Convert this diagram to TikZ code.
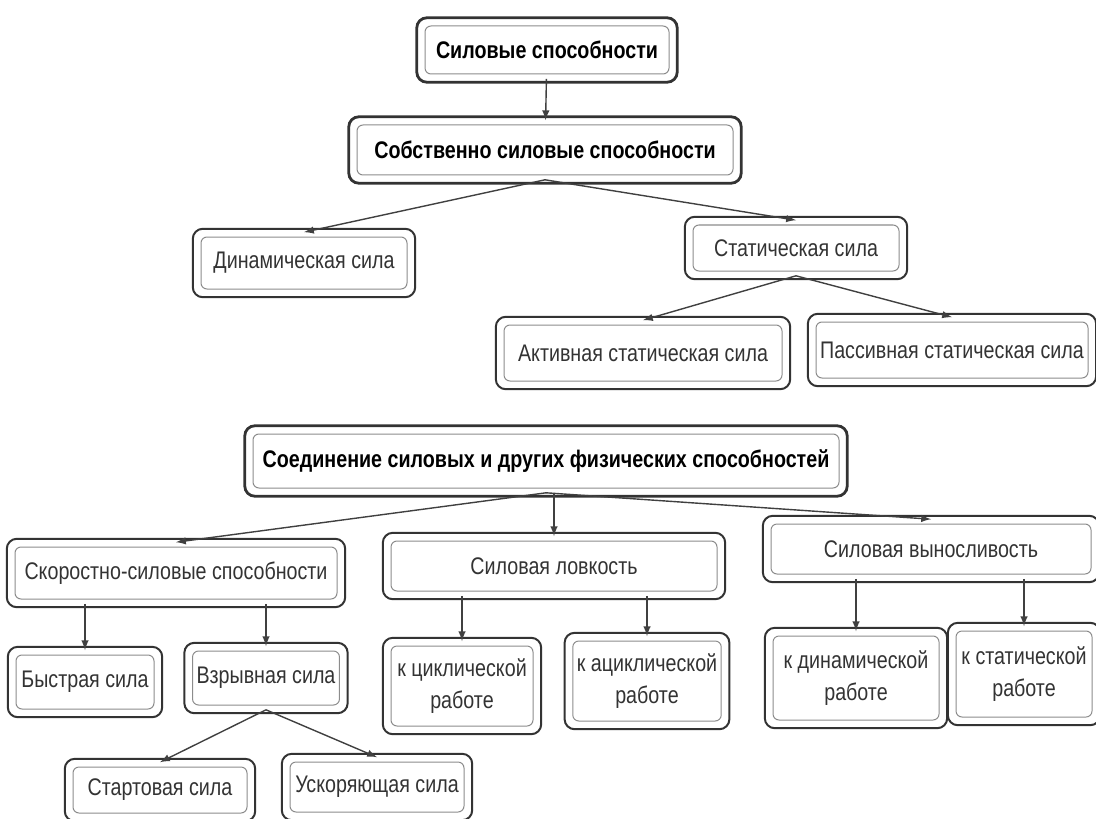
\documentclass[tikz,border=0pt]{standalone}
\usepackage{fontspec}
\setmainfont{Liberation Sans}[FakeStretch=0.82]

\begin{document}
\begin{tikzpicture}[>=latex, x=0.5pt, y=-0.5pt,
  box/.style={draw=black!45, line width=.5pt, rounded corners=3pt, inner sep=2pt, outer sep=2.4pt,
    align=center, text=black!80, font=\fontsize{12}{16}\selectfont},
  head/.style={box, text=black, font=\fontsize{12}{16}\selectfont\bfseries},
  frame/.style={draw=black!80, line width=1pt, rounded corners=5pt},
  link/.style={->, black!75, line width=.7pt}]
\useasboundingbox (0,0) rectangle (1096,818);

% upper tree
\node[head, minimum width=122pt, minimum height=24pt] (b1) at (547,50) {Силовые способности};
\node[head, minimum width=188pt, minimum height=25pt] (b2) at (545,150) {Собственно силовые способности};
\node[box, minimum width=103pt, minimum height=26pt] (b3) at (304,263) {Динамическая сила};
\node[box, minimum width=103pt, minimum height=23pt] (b4) at (796,248) {Статическая сила};
\node[box, minimum width=139pt, minimum height=28pt] (b5) at (643,353) {Активная статическая сила};
\node[box, minimum width=136pt, minimum height=28pt] (b6) at (952,350) {Пассивная статическая сила};

% lower tree
\node[head, minimum width=293pt, minimum height=27pt] (b7) at (546,461) {Соединение силовых и других физических способностей};
\node[box, minimum width=161pt, minimum height=26pt] (b8) at (176,573) {Скоростно-силовые способности};
\node[box, minimum width=163pt, minimum height=25pt] (b9) at (554,566) {Силовая ловкость};
\node[box, minimum width=160pt, minimum height=25pt] (b10) at (931,549) {Силовая выносливость};
\node[box, minimum width=69pt, minimum height=27pt] (b11) at (85,682) {Быстрая сила};
\node[box, minimum width=71pt, minimum height=27pt] (b12) at (266,678) {Взрывная сила};
\node[box, minimum width=71pt, minimum height=40pt] (b13) at (462,686) {к циклической\\работе};
\node[box, minimum width=72pt, minimum height=40pt] (b14) at (647,681) {к ациклической\\работе};
\node[box, minimum width=83pt, minimum height=42pt] (b15) at (856,678) {к динамической\\работе};
\node[box, minimum width=68pt, minimum height=43pt] (b16) at (1024,674) {к статической\\работе};
\node[box, minimum width=87pt, minimum height=23pt] (b17) at (160,790) {Стартовая сила};
\node[box, minimum width=87pt, minimum height=25pt] (b18) at (377,787) {Ускоряющая сила};

% outer frames
\foreach \n in {b3,b4,b5,b6,b8,b9,b10,b11,b12,b13,b14,b15,b16,b17,b18}
    \draw[frame] ([shift={(-1.7pt,-1.7pt)}]\n.south west) rectangle ([shift={(1.7pt,1.7pt)}]\n.north east);
\foreach \n in {b1,b2,b7}
    \draw[frame, line width=1.4pt] ([shift={(-1.7pt,-1.7pt)}]\n.south west) rectangle ([shift={(1.7pt,1.7pt)}]\n.north east);

% links
\draw[link] (b1) -- (b2);
\foreach \a/\b in {b2/b3, b2/b4, b4/b5, b4/b6, b7/b8, b7/b10, b12/b17, b12/b18}
    \draw[link] (\a.south) -- (\b.north);
\foreach \a/\b in {b7/b9, b8/b11, b8/b12, b9/b13, b9/b14, b10/b15, b10/b16}
    \draw[link] (\b.north |- \a.south) -- (\b.north);
\end{tikzpicture}
\end{document}
